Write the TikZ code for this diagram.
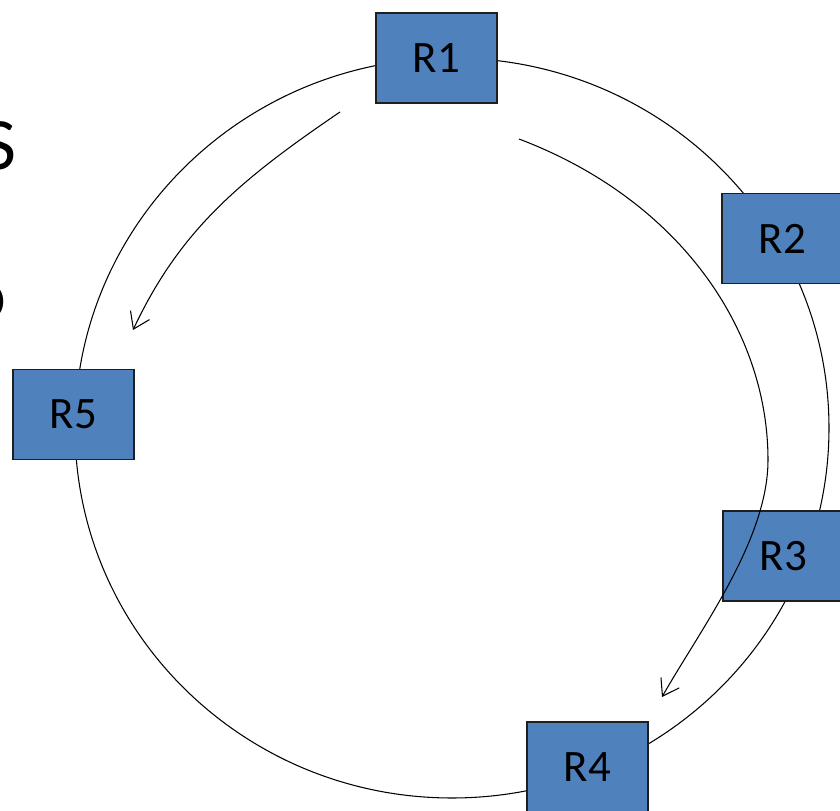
\documentclass[tikz,border=0pt]{standalone}
\usepackage{fontspec}
\setmainfont{Carlito}
\usetikzlibrary{arrows.meta}
\definecolor{router}{HTML}{4F81BD}
\definecolor{edge}{HTML}{1F1F1F}
\tikzset{
  rbox/.style={draw=edge,fill=router,line width=0.8pt,minimum width=2.42cm,minimum height=1.8cm,inner sep=0pt,font=\fontsize{25.6}{30}\selectfont},
  hop/.style={line width=0.6pt,-{Straight Barb[length=3.1mm,width=4.2mm]}}
}
\begin{document}
\begin{tikzpicture}[x=0.02cm,y=-0.02cm]
  \useasboundingbox (0,0) rectangle (840,811);
  % leftover slide text, cut by the page edge
  \node[anchor=base east,inner sep=0pt,font=\fontsize{42}{48}\selectfont] (cutS) at (17,170) {S};
  \node[anchor=base east,inner sep=0pt,font=\fontsize{42}{48}\selectfont] (cutO) at (7,320) {o};
  % ring
  \draw[line width=0.6pt] (452,428) ellipse (377 and 370);
  % routers on the ring
  \foreach \name/\x/\y in {R1/436.5/58, R2/782.5/238.5, R3/783.5/556, R4/587.5/767, R5/73.5/414.5} {
    \node[rbox] (\name) at (\x,\y) {\name};
  }
  % forwarding arrows
  \coordinate (aS) at (340,112);
  \coordinate (aE) at (133,330);
  \draw[hop] (aS) .. controls (240,180) and (180,230) .. (aE);
  \coordinate (bS) at (519,139);
  \coordinate (bM) at (768,460);
  \coordinate (bE) at (662,697);
  \draw[line width=0.6pt] (bS) .. controls (680,200) and (768,330) .. (bM);
  \draw[hop] (bM) .. controls (768,540) and (700,630) .. (bE);
\end{tikzpicture}
\end{document}
